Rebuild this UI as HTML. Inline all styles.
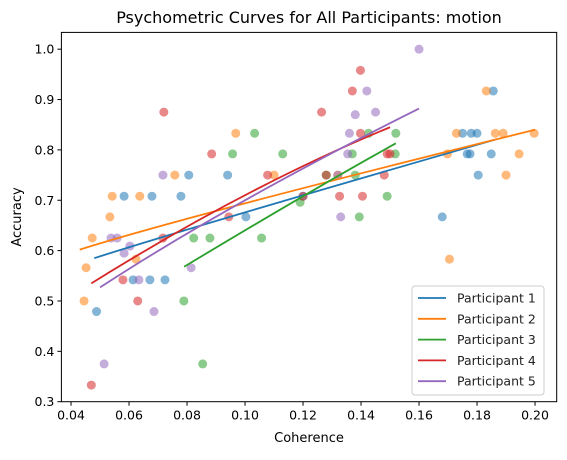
<!DOCTYPE html>
<html><head><meta charset="utf-8"><style>
body{margin:0;background:#fff;}
svg{font-family:"DejaVu Sans","Liberation Sans",sans-serif;}
</style></head><body>
<svg id="chart" width="567" height="455" xmlns="http://www.w3.org/2000/svg">
<rect width="567" height="455" fill="#fff"/>
<text x="309" y="23" text-anchor="middle" font-size="16" fill="#000">Psychometric Curves for All Participants: motion</text>
<text x="309" y="442" text-anchor="middle" font-size="13">Coherence</text>
<text transform="translate(21,217) rotate(-90)" text-anchor="middle" font-size="13">Accuracy</text>
<g id="grid"></g>
<g id="marks"></g>
<rect x="61.4" y="32.4" width="495.3" height="369.3" fill="none" stroke="#000" stroke-width="1"/>
<g>
<rect x="412" y="286" width="132" height="109" rx="3" fill="#fff" fill-opacity="0.8" stroke="#ccc"/>
<g id="legend"></g>
</g>
</svg>
<script>
const colors=["#1f77b4","#ff7f0e","#2ca02c","#d62728","#9467bd"];
const names=["Participant 1","Participant 2","Participant 3","Participant 4","Participant 5"];
const xTicks=[0.04,0.06,0.08,0.10,0.12,0.14,0.16,0.18,0.20];
const xTickLabels=["0.04","0.06","0.08","0.10","0.12","0.14","0.16","0.18","0.20"];
const yTicks=[0.3,0.4,0.5,0.6,0.7,0.8,0.9,1.0];
const yTickLabels=["0.3","0.4","0.5","0.6","0.7","0.8","0.9","1.0"];
const p1x=[0.0488,0.0583,0.0679,0.0779,0.0806,0.094,0.1003,0.0614,0.0672,0.0724,0.12,0.175,0.178,0.180,0.1856,0.1766,0.1776,0.1849,0.1804,0.168];
const p1y=[0.479,0.708,0.708,0.708,0.75,0.75,0.667,0.542,0.542,0.542,0.708,0.833,0.833,0.833,0.917,0.792,0.792,0.792,0.75,0.667];
const p2x=[0.0445,0.0452,0.0473,0.0534,0.0542,0.0637,0.0624,0.0758,0.0968,0.110,0.132,0.1729,0.1698,0.1705,0.1832,0.1863,0.189,0.1997,0.1945,0.19];
const p2y=[0.5,0.566,0.625,0.667,0.708,0.708,0.583,0.75,0.833,0.75,0.75,0.833,0.792,0.583,0.917,0.833,0.833,0.833,0.792,0.75];
const p3x=[0.1033,0.0957,0.113,0.0823,0.0879,0.1057,0.0789,0.0854,0.119,0.128,0.1426,0.152,0.137,0.1518,0.138,0.149,0.1394];
const p3y=[0.833,0.792,0.792,0.625,0.625,0.625,0.5,0.375,0.696,0.75,0.833,0.833,0.792,0.792,0.75,0.708,0.667];
const p4x=[0.072,0.0885,0.1078,0.0944,0.0717,0.0579,0.063,0.047,0.12,0.1264,0.1398,0.137,0.1398,0.149,0.150,0.148,0.1326,0.1405,0.128];
const p4y=[0.875,0.792,0.75,0.667,0.625,0.542,0.5,0.333,0.708,0.875,0.958,0.917,0.833,0.792,0.792,0.75,0.708,0.708,0.75];
const p5x=[0.0538,0.0559,0.0603,0.0583,0.0634,0.0686,0.0514,0.0717,0.0814,0.16,0.142,0.138,0.145,0.136,0.1354,0.133,0.132];
const p5y=[0.625,0.625,0.609,0.595,0.542,0.479,0.375,0.75,0.566,1.0,0.917,0.87,0.875,0.833,0.792,0.667,0.75];
const f1x=[0.048,0.10,0.186], f1y=[0.585,0.676,0.82];
const f2x=[0.043,0.10,0.20], f2y=[0.602,0.694,0.84];
const f3x=[0.079,0.12,0.152], f3y=[0.568,0.708,0.813];
const f4x=[0.047,0.10,0.15], f4y=[0.535,0.71,0.845];
const f5x=[0.050,0.10,0.16], f5y=[0.527,0.70,0.882];
const ptsX=[p1x,p2x,p3x,p4x,p5x], ptsY=[p1y,p2y,p3y,p4y,p5y];
const fitX=[f1x,f2x,f3x,f4x,f5x], fitY=[f1y,f2y,f3y,f4y,f5y];
const L=61.4,R=556.7,T=32.4,B=401.7,xmin=0.03668,xmax=0.20747,ymin=0.3,ymax=1.0333;
const sx=v=>L+(v-xmin)/(xmax-xmin)*(R-L);
const sy=v=>B-(v-ymin)/(ymax-ymin)*(B-T);
const NS="http://www.w3.org/2000/svg";
function mk(tag,attrs,parent){const e=document.createElementNS(NS,tag);for(const k in attrs)e.setAttribute(k,attrs[k]);parent.appendChild(e);return e;}
const grid=document.getElementById('grid'),marks=document.getElementById('marks'),leg=document.getElementById('legend');
xTicks.forEach((t,i)=>{
  const l=mk('line',{x1:sx(t),x2:sx(t),y1:B,y2:B+4,stroke:'#000'},grid);
  
  
  const tx=mk('text',{x:sx(t),y:B+18,'text-anchor':'middle','font-size':'12.5'},grid);
  tx.textContent=xTickLabels[i];
  
  
});
yTicks.forEach((t,i)=>{
  const l=mk('line',{x1:L-4,x2:L,y1:sy(t),y2:sy(t),stroke:'#000'},grid);
  
  
  const tx=mk('text',{x:L-7,y:sy(t)+4.5,'text-anchor':'end','font-size':'12.5'},grid);
  tx.textContent=yTickLabels[i];
  
  
});
for(let s=0;s<5;s++){
  ptsX[s].forEach((v,i)=>{
    const c=mk('circle',{cx:sx(v),cy:sy(ptsY[s][i]),r:4.5,fill:colors[s],'fill-opacity':0.55},marks);
    
    
  });
}
for(let s=0;s<5;s++){
  const xs=fitX[s],ys=fitY[s];
  const cx=2*sx(xs[1])-(sx(xs[0])+sx(xs[2]))/2, cy=2*sy(ys[1])-(sy(ys[0])+sy(ys[2]))/2;
  const p=mk('path',{d:`M${sx(xs[0])},${sy(ys[0])} Q${cx},${cy} ${sx(xs[2])},${sy(ys[2])}`,fill:'none',stroke:colors[s],'stroke-width':1.8},marks);
  
  
}
names.forEach((n,i)=>{
  const y=298+i*20.8;
  const l=mk('line',{x1:418,x2:446,y1:y,y2:y,stroke:colors[i],'stroke-width':1.8},leg);
  
  
  const t=mk('text',{x:457,y:y+4.5,'font-size':'12.5',fill:'#222'},leg);
  t.textContent=n;
  
  
});
</script>
</body></html>
